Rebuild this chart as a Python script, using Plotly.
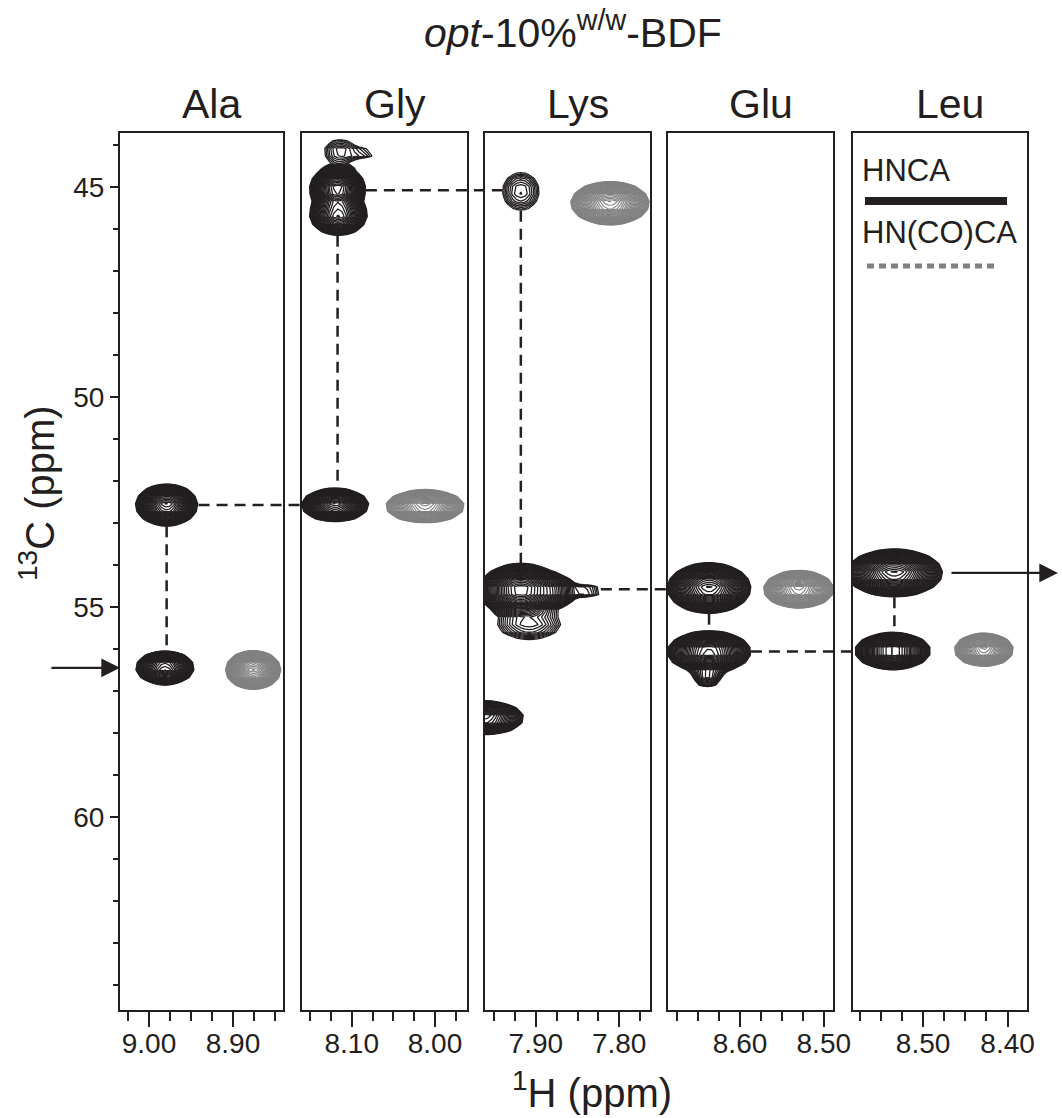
import numpy as np
import plotly.graph_objects as go

W, H = 1062, 1118
INK = "#231f20"
GREY = "#808080"
FONT = "Liberation Sans, Arial, Helvetica, sans-serif"

# ---- strips ---------------------------------------------------------------
residues = ["Ala", "Gly", "Lys", "Glu", "Leu"]
h_windows = [(9.0345, 8.8405), (8.1597, 7.9616), (7.961, 7.763),
             (8.686, 8.489), (8.583, 8.377)]
c_window = (64.6, 43.71)

# pixel placement of each strip on the page
strip_px = [(120, 283), (302, 467), (485, 650), (668, 833), (853, 1027)]
plot_top, plot_bottom = 133, 1010

# ---- HNCA peak list: strip, 1H (ppm), 13C (ppm), sd 1H, sd 13C, height ----
hnca_strip = [0, 0, 1, 1, 1, 1, 1, 2, 2, 2, 2, 2, 2, 3, 3, 3, 4, 4]
hnca_h = [8.979, 8.981, 8.120, 8.117, 8.116, 8.114, 8.088, 7.918, 7.918,
          7.885, 7.842, 7.908, 7.962, 8.637, 8.637, 8.639, 8.534, 8.536]
hnca_c = [52.57, 56.45, 52.57, 45.05, 45.65, 44.15, 44.20, 45.10, 54.60,
          54.62, 54.62, 55.40, 57.64, 54.55, 56.07, 56.65, 54.19, 56.05]
hnca_sdh = [0.0110, 0.0110, 0.0120, 0.0100, 0.0110, 0.0120, 0.0120, 0.0127,
            0.0150, 0.0120, 0.0120, 0.0200, 0.0150, 0.0148, 0.0148, 0.0080,
            0.0169, 0.0133]
hnca_sdc = [0.150, 0.130, 0.120, 0.170, 0.160, 0.180, 0.100, 0.260, 0.190,
            0.150, 0.100, 0.200, 0.130, 0.180, 0.150, 0.120, 0.170, 0.133]
hnca_amp = [300, 150, 300, 300, 150, 3.5, 2.0, 4.5, 300,
            60, 4.0, 6.0, 150, 300, 300, 10, 300, 300]

# ---- HN(CO)CA peak list ----------------------------------------------------
hncoca_strip = [0, 1, 2, 3, 4]
hncoca_h = [8.876, 8.012, 7.811, 8.530, 8.428]
hncoca_c = [56.50, 52.60, 45.38, 54.58, 56.02]
hncoca_sdh = [0.0098, 0.0140, 0.0140, 0.0125, 0.0104]
hncoca_sdc = [0.140, 0.120, 0.155, 0.135, 0.120]
hncoca_amp = [300, 300, 300, 300, 300]

# sequential-walk connections between HNCA peaks (index pairs)
walk = [(0, 1), (0, 2), (3, 2), (3, 7), (7, 8), (8, 13), (13, 14), (14, 17), (16, 17)]

# arrows marking the first and last residue of the walk (HNCA peak index)
walk_start, walk_end = 1, 16

NOISE_FLOOR = 1.0      # lowest contour level
LEVEL_STEP = 1.2       # geometric contour spacing
TOP_LEVEL = 300.0


def field(strip, hs_grid, cs_grid, strips, hs, cs, sdh, sdc, amp):
    X, Y = np.meshgrid(np.atleast_1d(hs_grid), np.atleast_1d(cs_grid))
    Z = np.zeros_like(X, dtype=float)
    for s, h, c, wh, wc, a in zip(strips, hs, cs, sdh, sdc, amp):
        if s == strip:
            Z += a * np.exp(-0.5 * ((X - h) / wh) ** 2 - 0.5 * ((Y - c) / wc) ** 2)
    return Z


def hnca_at(strip, h, c):
    return float(field(strip, h, c, hnca_strip, hnca_h, hnca_c,
                       hnca_sdh, hnca_sdc, hnca_amp)[0, 0])


def to_paper_x(strip, ppm):
    l, r = strip_px[strip]
    a, b = h_windows[strip]
    return (l + (ppm - a) / (b - a) * (r - l)) / W


def walk_out(strip, h, c, dh, dc, limit=400):
    # step away from a peak centre until the spectrum drops below the floor
    for _ in range(limit):
        if hnca_at(strip, h, c) < NOISE_FLOOR:
            break
        h += dh
        c += dc
    return h, c


fig = go.Figure()

ydom = [1 - plot_bottom / H, 1 - plot_top / H]
for i in range(5):
    a, b = h_windows[i]
    xs = np.arange(b - 0.03, a + 0.03, 0.005)
    cs = np.arange(43.0, 65.3, 0.18)
    xa_id = "x" if i == 0 else f"x{i + 1}"
    ya_id = "y" if i == 0 else f"y{i + 1}"
    for strips, hs, ccs, sdh, sdc, amp, col, lw in [
        (hncoca_strip, hncoca_h, hncoca_c, hncoca_sdh, hncoca_sdc, hncoca_amp, GREY, 1.1),
        (hnca_strip, hnca_h, hnca_c, hnca_sdh, hnca_sdc, hnca_amp, INK, 1.3),
    ]:
        Z = field(i, xs, cs, strips, hs, ccs, sdh, sdc, amp)
        fig.add_trace(go.Contour(
            x=xs, y=cs, z=np.log(Z + 1e-9),
            xaxis=xa_id, yaxis=ya_id,
            autocontour=False,
            contours=dict(coloring="lines", start=np.log(NOISE_FLOOR),
                          end=np.log(TOP_LEVEL), size=np.log(LEVEL_STEP)),
            line=dict(width=lw, smoothing=0),
            colorscale=[[0, col], [1, col]], showscale=False,
            hoverinfo="skip",
        ))

    l, r = strip_px[i]
    axis_common = dict(showline=True, mirror=True, linewidth=2.2, linecolor=INK,
                       showgrid=False, zeroline=False, automargin=False)
    fig.layout[("xaxis" if i == 0 else f"xaxis{i + 1}")] = dict(
        domain=[l / W, r / W], range=[a, b], anchor=ya_id,
        ticks="outside", ticklen=15, tickwidth=2, tickcolor=INK,
        tick0=0, dtick=0.1, tickformat=".2f", ticklabelstandoff=-8,
        tickfont=dict(family=FONT, size=28, color=INK),
        minor=dict(dtick=0.025, ticklen=9, tickwidth=2, tickcolor=INK,
                   ticks="outside", showgrid=False),
        **axis_common)
    yax = dict(domain=ydom, range=list(c_window), anchor=xa_id, **axis_common)
    if i == 0:
        yax.update(ticks="outside", ticklen=8, tickwidth=2, tickcolor=INK,
                   tick0=0, dtick=5,
                   tickfont=dict(family=FONT, size=28, color=INK),
                   minor=dict(dtick=1, ticklen=5, tickwidth=2, tickcolor=INK,
                              ticks="outside", showgrid=False))
    else:
        yax.update(showticklabels=False, ticks="", matches="y")
    fig.layout[("yaxis" if i == 0 else f"yaxis{i + 1}")] = yax

# ---- sequential connectivity lines ---------------------------------------
dash_line = dict(color=INK, width=2.5, dash="11px,7px")
for p, q in walk:
    sp, sq = hnca_strip[p], hnca_strip[q]
    if sp == sq:
        h = hnca_h[p]
        _, c0 = walk_out(sp, h, hnca_c[p], 0.0, 0.01)
        _, c1 = walk_out(sq, h, hnca_c[q], 0.0, -0.01)
        ya_id = "y" if sp == 0 else f"y{sp + 1}"
        xa_id = "x" if sp == 0 else f"x{sp + 1}"
        fig.add_shape(type="line", xref=xa_id, yref=ya_id, x0=h, x1=h,
                      y0=c0, y1=c1, line=dash_line)
    else:
        c = 0.5 * (hnca_c[p] + hnca_c[q])
        h0, _ = walk_out(sp, hnca_h[p], c, -0.001, 0.0)
        h1, _ = walk_out(sq, hnca_h[q], c, 0.001, 0.0)
        h1 = min(h1, h_windows[sq][0])
        fig.add_shape(type="line", xref="paper", yref="y",
                      x0=to_paper_x(sp, h0), x1=to_paper_x(sq, h1),
                      y0=c, y1=c, line=dash_line)

# ---- arrows ---------------------------------------------------------------
arrow = dict(showarrow=True, arrowhead=2, arrowsize=1.7, arrowwidth=2.2,
             arrowcolor=INK, text="", yref="y", xref="paper", ay=0)
fig.add_annotation(x=strip_px[0][0] / W, y=hnca_c[walk_start], ax=-70, **arrow)
fig.add_annotation(x=1058 / W, y=hnca_c[walk_end], ax=-108, **arrow)


# ---- text ------------------------------------------------------------------
def label(text, px, py, size, xanchor="center", **kw):
    fig.add_annotation(text=text, x=px / W, y=1 - py / H, xref="paper", yref="paper",
                       xanchor=xanchor, yanchor="middle", showarrow=False,
                       font=dict(family=FONT, size=size, color=INK), **kw)


label("<i>opt</i>-10%<sup>w/w</sup>-BDF", 573, 30, 41)
for i, name in enumerate(residues):
    l, r = strip_px[i]
    label(name, (l + r) / 2 + 10, 104, 41)
label("<sup>13</sup>C (ppm)", 37, 493, 40, textangle=-90)
label("<sup>1</sup>H (ppm)", 592, 1090, 40)

# legend block
label("HNCA", 860, 170, 31, xanchor="left")
label("HN(CO)CA", 860, 233, 31, xanchor="left")
fig.add_shape(type="line", xref="paper", yref="paper",
              x0=865 / W, x1=1007 / W, y0=1 - 201 / H, y1=1 - 201 / H,
              line=dict(color=INK, width=8))
fig.add_shape(type="line", xref="paper", yref="paper",
              x0=867 / W, x1=995 / W, y0=1 - 266 / H, y1=1 - 266 / H,
              line=dict(color=GREY, width=5, dash="7px,5px"))

fig.update_layout(width=W, height=H, autosize=False,
                  margin=dict(l=0, r=0, t=0, b=0, autoexpand=False),
                  paper_bgcolor="white", plot_bgcolor="rgba(0,0,0,0)",
                  showlegend=False, font=dict(family=FONT, color=INK))

fig.write_html("out.html", config={"responsive": False})
